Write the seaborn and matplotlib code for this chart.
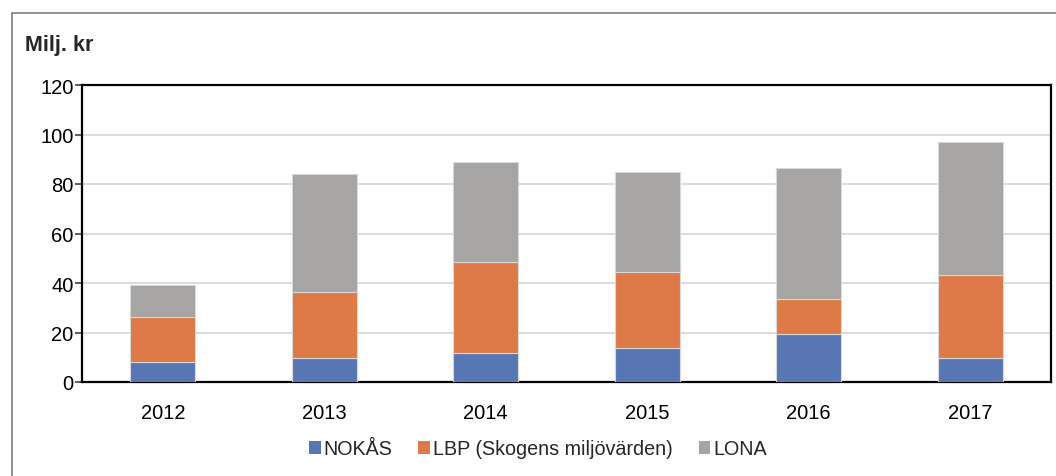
import matplotlib
matplotlib.use("Agg")
import matplotlib.pyplot as plt
import seaborn as sns
import pandas as pd
import numpy as np
from matplotlib.patches import Patch
from matplotlib.lines import Line2D

years = ["2012", "2013", "2014", "2015", "2016", "2017"]
nokas = [8.2, 9.8, 11.6, 13.6, 19.5, 9.8]
lbp = [18.2, 26.7, 36.9, 31.0, 14.2, 33.3]
lona = [12.8, 47.4, 40.2, 40.2, 52.6, 53.7]
series_names = ["NOKÅS", "LBP (Skogens miljövärden)", "LONA"]
colors = ["#5875b4", "#dd7a47", "#a6a5a4"]

sns.set_theme(style="white")
plt.rcParams["font.family"] = ["Liberation Sans", "DejaVu Sans"]

fig = plt.figure(figsize=(10.56, 4.77), dpi=100)
ax = fig.add_axes([82 / 1056, 1 - 383 / 477, (1051 - 82) / 1056, (383 - 86) / 477])

bottom = np.zeros(len(years))
for name, vals, col in zip(series_names, [nokas, lbp, lona], colors):
    df = pd.DataFrame({"year": years, "value": vals})
    sns.barplot(data=df, x="year", y="value", order=years, color=col, width=0.4,
                bottom=bottom, ax=ax, edgecolor="#d8d8d8", linewidth=0.8,
                saturation=1, zorder=3)
    bottom = bottom + np.array(vals)

ax.set_ylim(0, 120)
ax.set_xlim(-0.5, 5.5)
ax.set_yticks(range(0, 121, 20))
ax.yaxis.grid(True, color="#d9d9d9", linewidth=1.3, zorder=0)
ax.set_axisbelow(True)
ax.set_xlabel("")
ax.set_ylabel("")
for s in ax.spines.values():
    s.set_color("black")
    s.set_linewidth(1.6)
ax.tick_params(axis="y", which="both", left=True, length=5, width=1.2, color="#404040",
               labelsize=14.5, pad=1, labelcolor="black")
ax.tick_params(axis="x", bottom=False, labelsize=14.5, pad=9, labelcolor="black")

fig.text(25 / 1056, 1 - 46 / 477, "Milj. kr", fontsize=15.5, fontweight="bold", va="center", ha="left")

handles = [Patch(facecolor=c, edgecolor="none") for c in colors]
fig.legend(handles, series_names, loc="center", bbox_to_anchor=(538 / 1056, 1 - 450 / 477),
           ncol=3, frameon=False, fontsize=14.2, handlelength=0.6, handleheight=0.6,
           handletextpad=0.15, columnspacing=1.3)

# outer border (left and top)
fig.add_artist(Line2D([11.5 / 1056, 11.5 / 1056], [0, 1 - 14 / 477], transform=fig.transFigure,
                      color="#8a8a8a", linewidth=1.3))
fig.add_artist(Line2D([11.5 / 1056, 1], [1 - 14 / 477, 1 - 14 / 477], transform=fig.transFigure,
                      color="#8a8a8a", linewidth=1.3))

fig.savefig("out.png", dpi=100, facecolor="white")
